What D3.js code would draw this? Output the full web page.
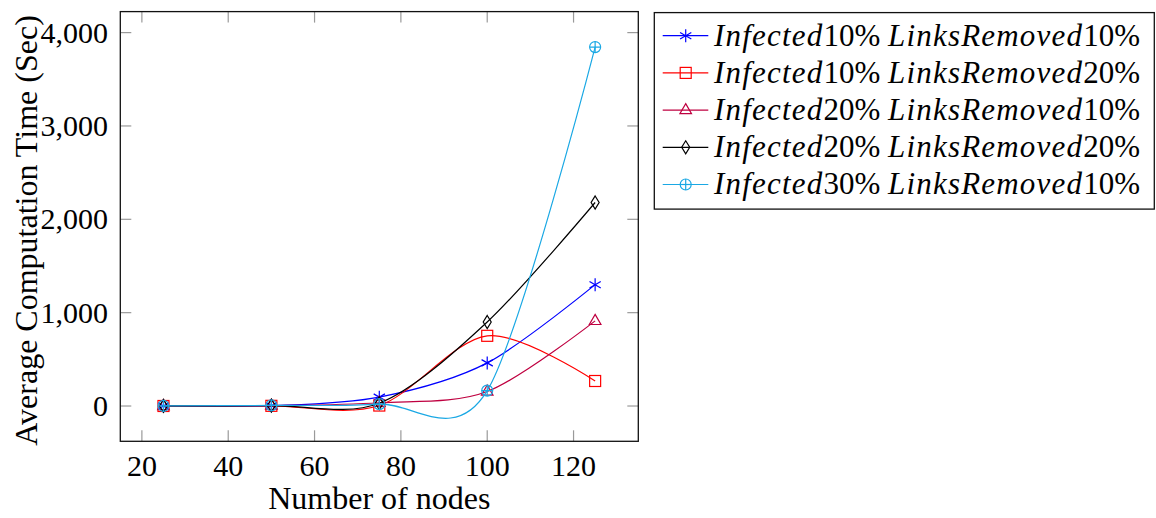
<!DOCTYPE html>
<html>
<head>
<meta charset="utf-8">
<script src="https://cdn.jsdelivr.net/npm/d3@7"></script>
<style>
  html, body { margin: 0; padding: 0; background: #fff; }
  svg { display: block; }
</style>
</head>
<body>
<svg id="chart" width="1156" height="518" font-family="'Liberation Serif', 'Times New Roman', serif"></svg>
<script>
// ---- data ----
const nodes = [25, 50, 75, 100, 125];
const seriesNames = [
  ["Infected", "10%", "LinksRemoved", "10%"],
  ["Infected", "10%", "LinksRemoved", "20%"],
  ["Infected", "20%", "LinksRemoved", "10%"],
  ["Infected", "20%", "LinksRemoved", "20%"],
  ["Infected", "30%", "LinksRemoved", "10%"]
];
const inf10lr10 = [0.5, 3, 95, 462, 1300];
const inf10lr20 = [0.3, 2, 5, 752, 268];
const inf20lr10 = [0.6, 4, 35, 155, 912];
const inf20lr20 = [0.8, 5, 30, 900, 2180];
const inf30lr10 = [1, 6, 20, 165, 3845];
const xTicks = [20, 40, 60, 80, 100, 120];
const yTicks = [0, 1000, 2000, 3000, 4000];
const xLabel = "Number of nodes";
const yLabel = "Average Computation Time (Sec)";

const seriesValues = [inf10lr10, inf10lr20, inf20lr10, inf20lr20, inf30lr10];
const colors = ["#0000ff", "#ff0000", "#bf0040", "#000000", "#1aa8e4"];
const markers = ["star", "square", "triangle", "diamond", "oplus"];

// ---- layout ----
const L = 120.3, R = 638.3, T = 11.6, B = 441.3;
const FS = 30;
const svg = d3.select("#chart");

const x = d3.scaleLinear().domain([15, 135]).range([L, R]);
const y = d3.scaleLinear().domain([-378, 4225]).range([B, T]);

// ticks (inside, both sides)
const tickLen = 11;
const tg = svg.append("g").attr("stroke", "#9a9a9a").attr("stroke-width", 1.2);
xTicks.forEach(t => {
  tg.append("line").attr("x1", x(t)).attr("x2", x(t)).attr("y1", B).attr("y2", B - tickLen);
  tg.append("line").attr("x1", x(t)).attr("x2", x(t)).attr("y1", T).attr("y2", T + tickLen);
});
yTicks.forEach(t => {
  tg.append("line").attr("x1", L).attr("x2", L + tickLen).attr("y1", y(t)).attr("y2", y(t));
  tg.append("line").attr("x1", R).attr("x2", R - tickLen).attr("y1", y(t)).attr("y2", y(t));
});

// tick labels
const fmt = d3.format(",");
svg.append("g").selectAll("text").data(xTicks).join("text")
  .attr("x", d => x(d)).attr("y", 476)
  .attr("text-anchor", "middle").attr("font-size", FS).text(d => d);
svg.append("g").selectAll("text").data(yTicks).join("text")
  .attr("x", 108).attr("y", d => y(d) + 10)
  .attr("text-anchor", "end").attr("font-size", FS).text(d => fmt(d));

// axis labels
svg.append("text").attr("x", (L + R) / 2).attr("y", 509)
  .attr("text-anchor", "middle").attr("font-size", FS + 2).text(xLabel);
svg.append("text").attr("transform", `translate(37,${(T + B) / 2 + 4}) rotate(-90)`)
  .attr("text-anchor", "middle").attr("font-size", FS + 2).text(yLabel);

// clip
svg.append("clipPath").attr("id", "clip").append("rect")
  .attr("x", L).attr("y", T).attr("width", R - L).attr("height", B - T);

// marker drawing
function drawMarker(g, type, cx, cy, color) {
  const m = g.append("g").attr("transform", `translate(${cx},${cy})`)
    .attr("fill", "none").attr("stroke", color).attr("stroke-width", 1.2);
  if (type === "star") {
    const r = 6.5;
    for (let i = 0; i < 3; i++) {
      const a = Math.PI / 2 + i * Math.PI / 3;
      m.append("line").attr("x1", r * Math.cos(a)).attr("y1", r * Math.sin(a))
        .attr("x2", -r * Math.cos(a)).attr("y2", -r * Math.sin(a));
    }
  } else if (type === "square") {
    m.append("rect").attr("x", -5.5).attr("y", -5.5).attr("width", 11).attr("height", 11);
  } else if (type === "triangle") {
    m.append("path").attr("d", "M0,-6.5 L5.8,3.6 L-5.8,3.6 Z");
  } else if (type === "diamond") {
    m.append("path").attr("d", "M0,-6.5 L4,0 L0,6.5 L-4,0 Z");
  } else if (type === "oplus") {
    m.append("circle").attr("r", 5.5);
    m.append("line").attr("x1", -5.5).attr("x2", 5.5);
    m.append("line").attr("y1", -5.5).attr("y2", 5.5);
  }
}

// lines
const line = d3.line().x(d => x(d[0])).y(d => y(d[1])).curve(d3.curveCardinal.tension(0.084));
const pg = svg.append("g").attr("clip-path", "url(#clip)");
seriesValues.forEach((vals, i) => {
  const pts = nodes.map((n, j) => [n, vals[j]]);
  pg.append("path").datum(pts).attr("d", line)
    .attr("fill", "none").attr("stroke", colors[i]).attr("stroke-width", 1.2);
  pts.forEach(p => drawMarker(pg, markers[i], x(p[0]), y(p[1]), colors[i]));
});

// frame
svg.append("rect").attr("x", L).attr("y", T).attr("width", R - L).attr("height", B - T)
  .attr("fill", "none").attr("stroke", "#111").attr("stroke-width", 1.3);

// legend
const LX = 654.3, LY = 12.6, LW = 500, LH = 196.5;
svg.append("rect").attr("x", LX).attr("y", LY).attr("width", LW).attr("height", LH)
  .attr("fill", "#fff").attr("stroke", "#111").attr("stroke-width", 1.3);
const targetW = 426;
seriesNames.forEach((parts, i) => {
  const base = 45.5 + i * 37.2;
  const cy = base - 9.8;
  svg.append("line").attr("x1", 662.7).attr("x2", 708.3).attr("y1", cy).attr("y2", cy)
    .attr("stroke", colors[i]).attr("stroke-width", 1.2);
  drawMarker(svg, markers[i], 685.7, cy, colors[i]);
  const t = svg.append("text").attr("x", 714).attr("y", base).attr("font-size", 31);
  const it1 = t.append("tspan").attr("font-style", "italic").text(parts[0]);
  t.append("tspan").text(parts[1]);
  t.append("tspan").text(" ");
  const it2 = t.append("tspan").attr("font-style", "italic").text(parts[2]);
  t.append("tspan").text(parts[3]);
  const w = t.node().getComputedTextLength();
  const ls = Math.max(0, (targetW - w) / (parts[0].length + parts[2].length));
  it1.attr("letter-spacing", ls);
  it2.attr("letter-spacing", ls);
});
</script>
</body>
</html>
